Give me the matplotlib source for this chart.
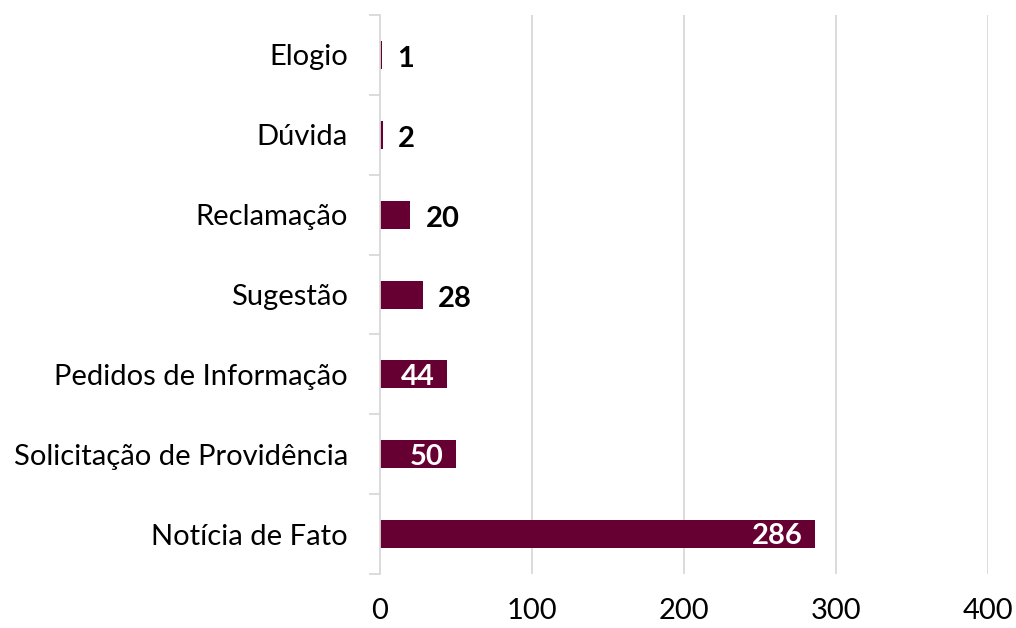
import matplotlib
matplotlib.use("Agg")
import matplotlib.pyplot as plt
from matplotlib.ticker import FixedLocator, NullFormatter

categories = ["Notícia de Fato", "Solicitação de Providência", "Pedidos de Informação",
              "Sugestão", "Reclamação", "Dúvida", "Elogio"]
values = [286, 50, 44, 28, 20, 2, 1]
x_ticks = [0, 100, 200, 300, 400]

plt.rcParams["font.family"] = ["Lato", "DejaVu Sans"]

BAR = "#660033"
GRID = "#d9d9d9"
FS = 21

fig = plt.figure(figsize=(10.16, 6.28), dpi=100)
ax = fig.add_axes([0.374, 0.086, 0.5985, 0.890])

pos = list(range(len(categories)))
ax.barh(pos, values, height=0.35, color=BAR, zorder=3)

ax.set_xlim(0, 400)
ax.set_ylim(-0.5, len(categories) - 0.5)
ax.set_xticks(x_ticks)
ax.set_xticklabels([str(t) for t in x_ticks], fontsize=FS)
ax.tick_params(axis="x", length=0, pad=17)
ax.grid(axis="x", color=GRID, linewidth=1.3, zorder=0)

# category labels centred, tick marks at boundaries
ax.set_yticks(pos)
ax.set_yticklabels(categories, fontsize=FS)
ax.tick_params(axis="y", which="major", length=0, pad=23)
ax.yaxis.set_minor_locator(FixedLocator([p - 0.5 for p in pos] + [len(pos) - 0.5]))
ax.yaxis.set_minor_formatter(NullFormatter())
ax.tick_params(axis="y", which="minor", length=8, width=1.3, color=GRID)

for s in ["top", "right", "bottom"]:
    ax.spines[s].set_visible(False)
ax.spines["left"].set_color(GRID)
ax.spines["left"].set_linewidth(1.3)
ax.spines["left"].set_zorder(4)

for p, v in zip(pos, values):
    if v >= 40:
        ax.annotate(str(v), (v, p - 0.03), xytext=(-9, 0), textcoords="offset points",
                    ha="right", va="center", color="white", fontsize=FS,
                    fontweight="bold", zorder=5)
    else:
        ax.annotate(str(v), (v, p - 0.05), xytext=(11, 0), textcoords="offset points",
                    ha="left", va="center", color="black", fontsize=FS,
                    fontweight="bold", zorder=5)

fig.savefig("out.png", dpi=100)
